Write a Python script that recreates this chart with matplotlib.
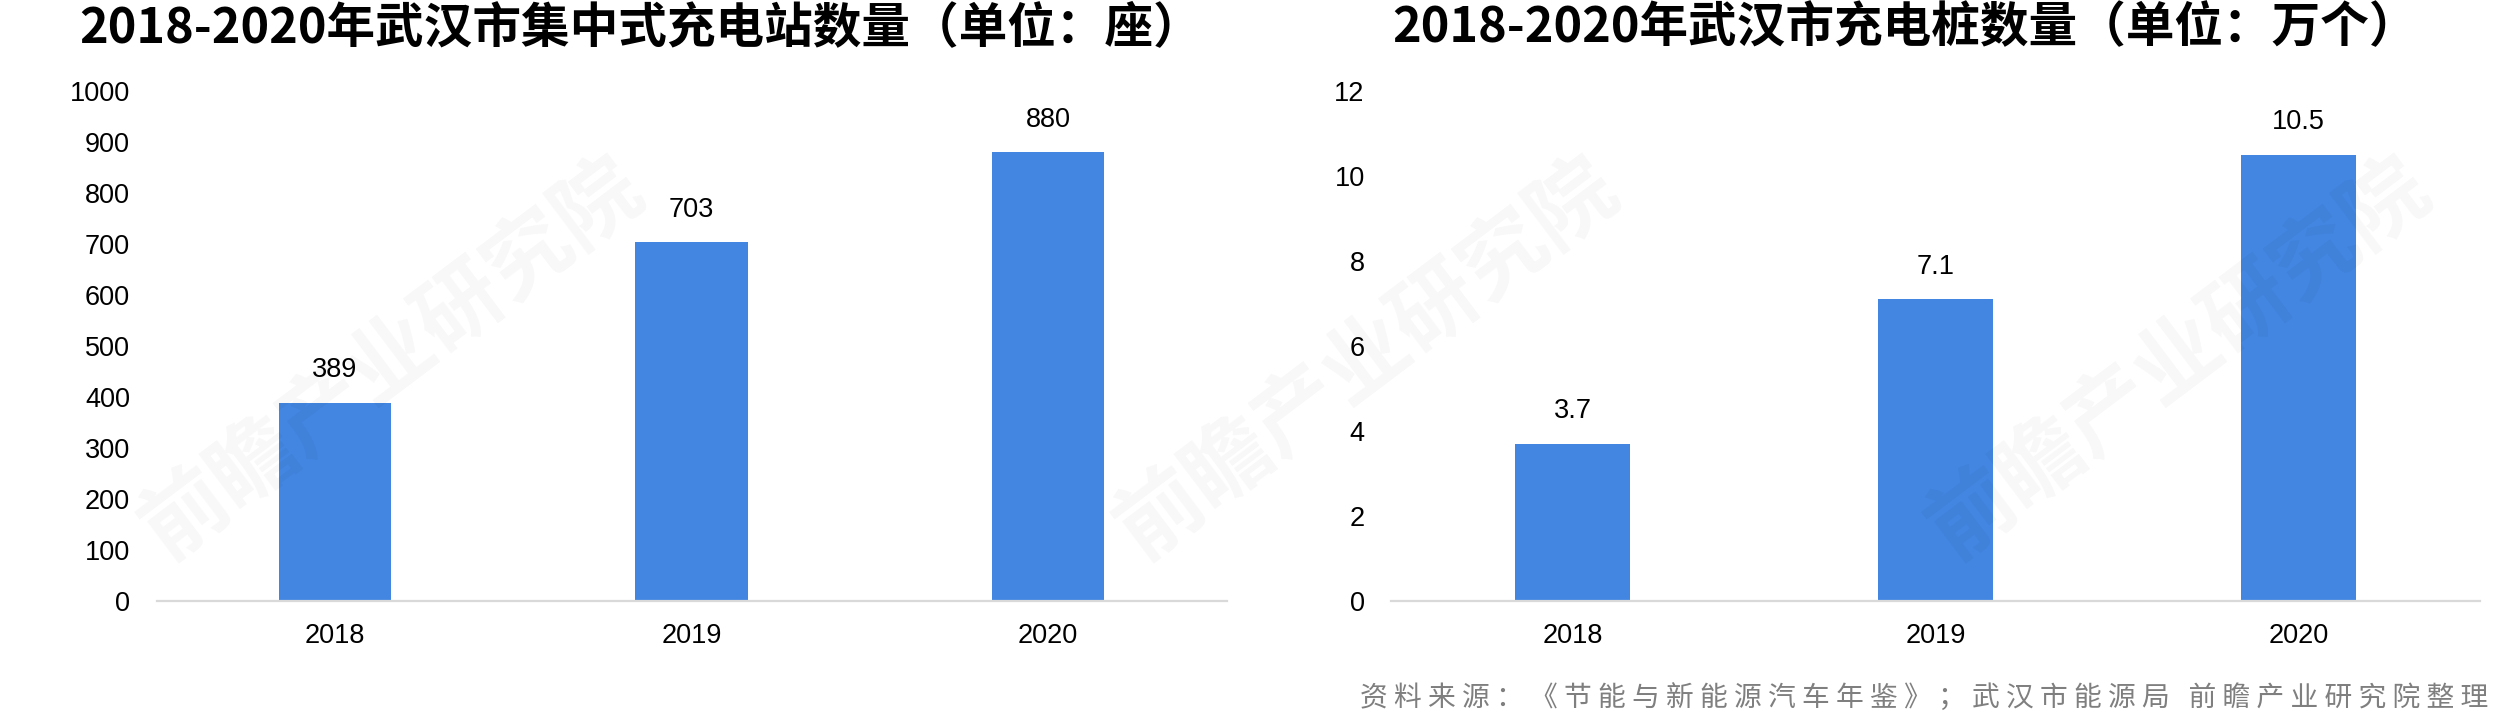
import matplotlib
matplotlib.use("Agg")
import matplotlib.pyplot as plt

plt.rcParams['font.family'] = ['Liberation Sans', 'Noto Sans CJK SC', 'DejaVu Sans']

years = ['2018', '2019', '2020']
stations = [389, 703, 880]          # 集中式充电站, 座
piles = [3.7, 7.1, 10.5]            # 充电桩, 万个

title_left = '2018-2020年武汉市集中式充电站数量（单位：座）'
title_right = '2018-2020年武汉市充电桩数量（单位：万个）'
source = '资料来源：《节能与新能源汽车年鉴》；武汉市能源局 前瞻产业研究院整理'

bar_color = '#4286e1'
cjk = ['Noto Sans CJK SC', 'DejaVu Sans']

fig = plt.figure(figsize=(24.93, 7.17), dpi=100)
ax1 = fig.add_axes([0.0628, 0.1618, 0.4292, 0.7113])
ax2 = fig.add_axes([0.558, 0.1618, 0.4368, 0.7113])


def style(ax, vals, ymax, step, fmt):
    x = range(len(years))
    ax.bar(x, vals, width=0.315, color=bar_color, zorder=2)
    for xi, v in zip(x, vals):
        ax.annotate(fmt.format(v), (xi, v), xytext=(0, 14), textcoords='offset points',
                    ha='center', va='bottom', fontsize=19.5)
    ax.set_xlim(-0.5, len(years) - 0.5)
    ax.set_ylim(0, ymax)
    ax.set_yticks([i * step for i in range(int(round(ymax / step)) + 1)])
    ax.set_xticks(list(x))
    ax.set_xticklabels(years)
    ax.tick_params(axis='both', length=0, labelsize=19.5)
    ax.tick_params(axis='y', pad=19)
    ax.tick_params(axis='x', pad=16)
    for s in ['left', 'right', 'top']:
        ax.spines[s].set_visible(False)
    ax.spines['bottom'].set_color('#d9d9d9')
    ax.spines['bottom'].set_linewidth(1.6)


style(ax1, stations, 1000, 100, '{}')
style(ax2, piles, 12, 2, '{}')

fig.text(0.257, 0.962, title_left, ha='center', va='center', fontsize=35,
         fontweight='bold', family=cjk)
fig.text(0.764, 0.962, title_right, ha='center', va='center', fontsize=35,
         fontweight='bold', family=cjk)

# 水印
for wx in [0.157, 0.548, 0.874]:
    fig.text(wx, 0.50, '前瞻产业研究院', ha='center', va='center', fontsize=62,
             fontweight='bold', family=cjk, rotation=37, color='black', alpha=0.03)

fig.text(0.998, 0.027, ' '.join(source.replace(' ', '')).replace('局 前', '局   前'),
         ha='right', va='center', fontsize=20, color='#7f7f7f', family=cjk)

fig.savefig('out.png', dpi=100)
